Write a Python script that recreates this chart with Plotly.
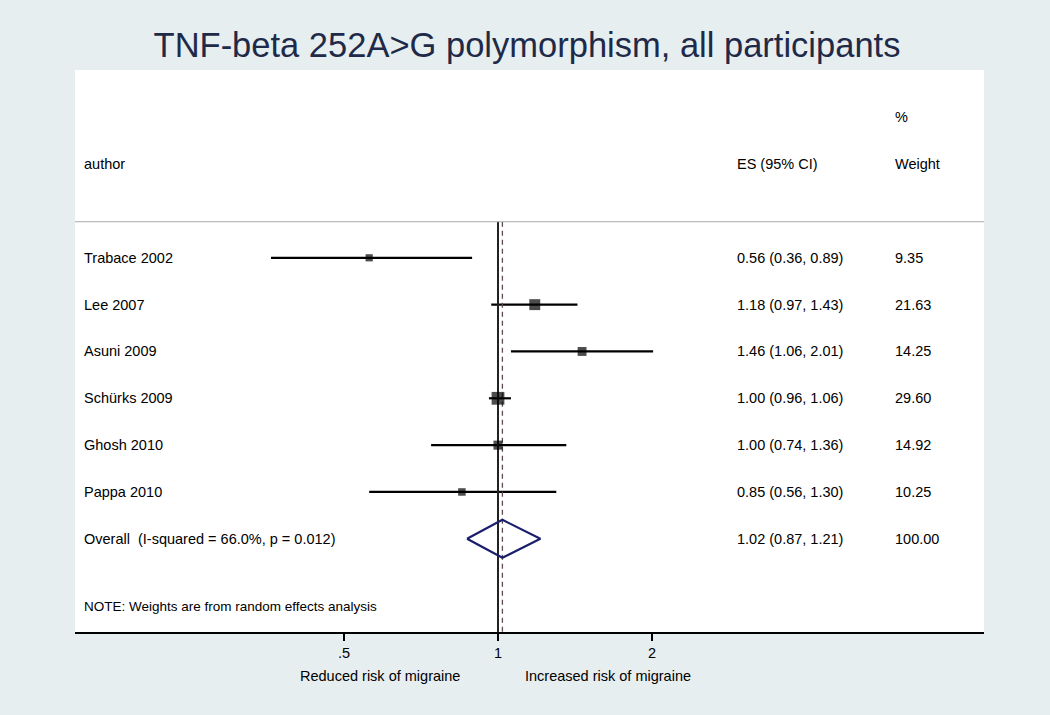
import math
import plotly.graph_objects as go

# ---- data ----
authors = ["Trabace 2002", "Lee 2007", "Asuni 2009", "Schürks 2009", "Ghosh 2010", "Pappa 2010"]
es = [0.56, 1.18, 1.46, 1.00, 1.00, 0.85]
ci_lo = [0.36, 0.97, 1.06, 0.96, 0.74, 0.56]
ci_hi = [0.89, 1.43, 2.01, 1.06, 1.36, 1.30]
weights = [9.35, 21.63, 14.25, 29.60, 14.92, 10.25]
overall_label = "Overall  (I-squared = 66.0%, p = 0.012)"
overall_es, overall_lo, overall_hi, overall_w = 1.02, 0.87, 1.21, 100.00
tick_vals = [0.5, 1, 2]
tick_text = [".5", "1", "2"]
title = "TNF-beta 252A>G polymorphism, all participants"
note = "NOTE: Weights are from random effects analysis"
left_label = "Reduced risk of migraine"
right_label = "Increased risk of migraine"

W, H = 1050, 715
L, R, T, B = 75, 66, 70, 83
FONT = "Liberation Sans, Arial, sans-serif"

rows = list(range(len(authors)))
overall_row = len(authors)
y_top, y_bot = -4.01, 7.99
sep_y = -0.77
note_y = 7.45

fig = go.Figure()

# CI lines
cx, cy = [], []
for i in rows:
    cx += [ci_lo[i], ci_hi[i], None]
    cy += [i, i, None]
fig.add_trace(go.Scatter(x=cx, y=cy, mode="lines",
                         line=dict(color="black", width=2.2), hoverinfo="skip"))

# vertical reference lines (null at 1, dashed at overall)
fig.add_trace(go.Scatter(x=[1, 1], y=[sep_y, y_bot], mode="lines",
                         line=dict(color="#222222", width=2), hoverinfo="skip"))
fig.add_trace(go.Scatter(x=[overall_es, overall_es], y=[sep_y, y_bot], mode="lines",
                         line=dict(color="#5e4c4c", width=1.3, dash="5px,4px"), hoverinfo="skip"))

# point estimates, sized by weight
fig.add_trace(go.Scatter(x=es, y=rows, mode="markers",
                         marker=dict(symbol="square", color="black",
                                     size=[2.35 * math.sqrt(w) for w in weights],
                                     line=dict(width=0)),
                         hoverinfo="skip"))

# overall diamond
hh = 0.405
fig.add_trace(go.Scatter(
    x=[overall_lo, overall_es, overall_hi, overall_es, overall_lo],
    y=[overall_row, overall_row - hh, overall_row, overall_row + hh, overall_row],
    mode="lines", line=dict(color="#1a1f6b", width=2.2), hoverinfo="skip"))

ann = []
def txt(x, y, s, size=14.5, color="black", xanchor="left", xref="paper", yref="y"):
    ann.append(dict(x=x, y=y, xref=xref, yref=yref, text=s, showarrow=False,
                    xanchor=xanchor, yanchor="middle",
                    font=dict(family=FONT, size=size, color=color)))

def px2paper(px):
    return (px - L) / (W - L - R)

x_lab, x_es, x_w = px2paper(82), px2paper(735), px2paper(893)

# header
txt(x_w, -3, "%")
txt(x_lab, -2, "author")
txt(x_es, -2, "ES (95% CI)")
txt(x_w, -2, "Weight")

for i in rows:
    txt(x_lab, i, authors[i])
    txt(x_es, i, f"{es[i]:.2f} ({ci_lo[i]:.2f}, {ci_hi[i]:.2f})")
    txt(x_w, i, f"{weights[i]:.2f}")
txt(x_lab, overall_row, overall_label)
txt(x_es, overall_row, f"{overall_es:.2f} ({overall_lo:.2f}, {overall_hi:.2f})")
txt(x_w, overall_row, f"{overall_w:.2f}")
txt(x_lab, note_y, note, size=13.5)

# bottom labels
lab_y = -(676 - (H - B)) / (H - T - B)
ann.append(dict(x=px2paper(380), y=lab_y, xref="paper", yref="paper",
                text=left_label, showarrow=False, xanchor="center", yanchor="middle",
                font=dict(family=FONT, size=14.5, color="black")))
ann.append(dict(x=px2paper(608), y=lab_y, xref="paper", yref="paper",
                text=right_label, showarrow=False, xanchor="center", yanchor="middle",
                font=dict(family=FONT, size=14.5, color="black")))

shapes = [dict(type="line", xref="paper", yref="y", x0=0, x1=1, y0=sep_y, y1=sep_y,
               line=dict(color="#a8a8a8", width=1.2))]

x_lo_px, x_hi_px = L, W - R
lg = lambda px: (px - 498) / 154 * math.log10(2)

fig.update_layout(
    width=W, height=H,
    margin=dict(l=L, r=R, t=T, b=B),
    paper_bgcolor="#e7eef0",
    plot_bgcolor="white",
    showlegend=False,
    title=dict(text=title, x=527 / W, xanchor="center", y=1 - 45 / H, yanchor="middle",
               font=dict(family=FONT, size=34.5, color="#1e2a48")),
    xaxis=dict(type="log", range=[lg(x_lo_px), lg(x_hi_px)], autorange=False,
               tickvals=tick_vals, ticktext=tick_text, ticks="outside", ticklen=7,
               tickwidth=1.5, tickcolor="black", showgrid=False, zeroline=False,
               showline=True, linecolor="black", linewidth=1.5,
               tickfont=dict(family=FONT, size=14.5, color="black")),
    yaxis=dict(range=[y_bot, y_top], autorange=False, visible=False, showgrid=False,
               zeroline=False),
    annotations=ann,
    shapes=shapes,
)

fig.write_html("out.html", post_script="document.body.style.margin='0';",
               config={"displayModeBar": False})
